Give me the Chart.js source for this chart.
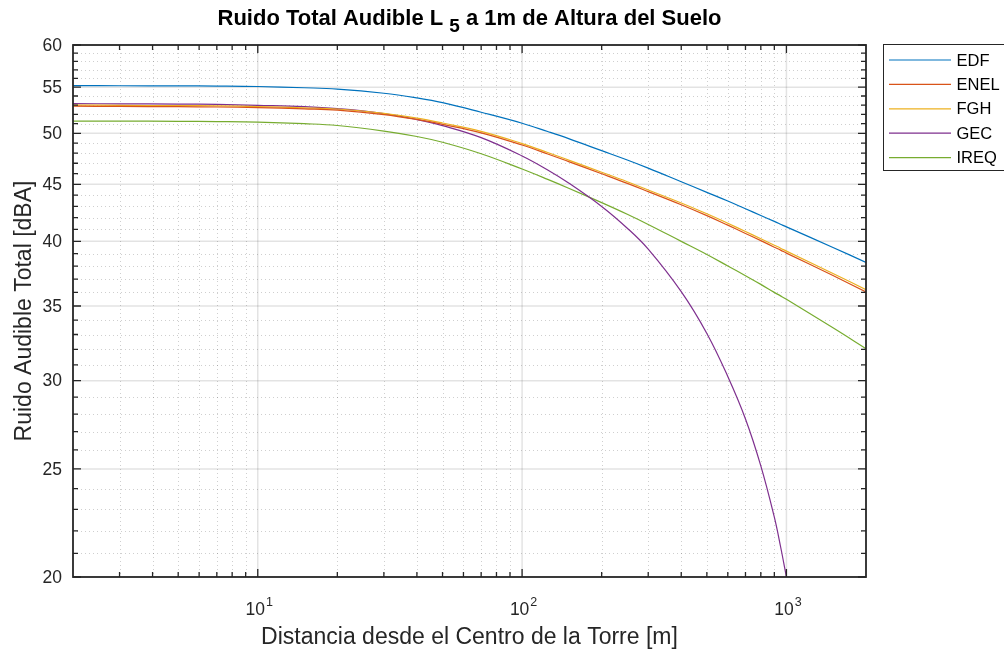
<!DOCTYPE html>
<html>
<head>
<meta charset="utf-8">
<script src="https://cdn.jsdelivr.net/npm/chart.js@4.4.1/dist/chart.umd.min.js"></script>
<style>
  html, body { margin: 0; padding: 0; background: #fff; }
  #wrap { width: 1004px; height: 649px; position: relative; }
</style>
</head>
<body>
<div id="wrap"><canvas id="c" width="1004" height="649"></canvas></div>
<script>
// Distance from tower centre [m]
const distance = [2, 3, 5, 7, 10, 15, 20, 30, 40, 50, 70, 100, 125, 150, 200, 250, 300, 400, 500, 600, 700, 800, 900, 950, 1000, 1500, 2000];

// Total audible noise L5 at 1 m above ground [dBA], one array per method
const edf  = [55.17, 55.16, 55.14, 55.12, 55.07, 54.93, 54.78, 54.31, 53.79, 53.27, 52.22, 51.05, 50.18, 49.45, 48.24, 47.32, 46.53, 45.24, 44.26, 43.47, 42.78, 42.19, 41.68, 41.44, 41.21, 39.5, 38.3];
const enel = [52.88, 52.85, 52.82, 52.79, 52.72, 52.58, 52.44, 51.97, 51.45, 50.93, 50.05, 48.8, 47.91, 47.16, 45.99, 45.09, 44.33, 43.14, 42.18, 41.36, 40.66, 40.06, 39.52, 39.28, 39.04, 37.27, 36.03];
const fgh  = [53.0, 52.97, 52.94, 52.91, 52.84, 52.7, 52.57, 52.1, 51.59, 51.07, 50.2, 48.95, 48.06, 47.31, 46.14, 45.24, 44.48, 43.3, 42.34, 41.52, 40.82, 40.22, 39.68, 39.44, 39.2, 37.43, 36.2];
const gec  = [53.15, 53.14, 53.11, 53.07, 52.97, 52.83, 52.61, 52.08, 51.44, 50.8, 49.55, 47.71, 46.35, 45.12, 42.99, 41.1, 39.36, 36.05, 33.07, 30.26, 27.72, 25.16, 22.63, 21.3, 20.0, null, null];
const ireq = [51.28, 51.27, 51.25, 51.22, 51.16, 51.0, 50.81, 50.23, 49.67, 49.08, 47.93, 46.44, 45.46, 44.64, 43.33, 42.3, 41.42, 40.0, 38.93, 38.02, 37.26, 36.6, 36.0, 35.74, 35.49, 33.46, 32.05];

const seriesNames = ['EDF', 'ENEL', 'FGH', 'GEC', 'IREQ'];
const seriesValues = [edf, enel, fgh, gec, ireq];
const seriesColors = ['#0072BD', '#D95319', '#EDB120', '#7E2F8E', '#77AC30'];

// Tick positions
const yMajorTicks = [20, 25, 30, 35, 40, 45, 50, 55, 60];
const xMajorTicks = [10, 100, 1000];
const xTickExponents = ['1', '2', '3'];

const titleMain = 'Ruido Total Audible L';
const titleSub = '5';
const titleRest = ' a 1m de Altura del Suelo';
const xTitle = 'Distancia desde el Centro de la Torre [m]';
const yTitle = 'Ruido Audible Total [dBA]';

const FONT = '"Liberation Sans", Arial, Helvetica, sans-serif';
const AXIS_COLOR = '#262626';

function yMinorValues() {
  const v = [];
  for (let i = 21; i < 60; i++) if (i % 5 !== 0) v.push(i);
  return v;
}
function xMinorValues() {
  const v = [];
  [1, 10, 100, 1000].forEach(d => {
    for (let m = 2; m <= 9; m++) {
      const val = m * d;
      if (val > 2 && val < 2000) v.push(val);
    }
  });
  return v;
}

const matlabAxes = {
  id: 'matlabAxes',
  beforeDatasetsDraw(chart) {
    const { ctx, chartArea: a, scales: { x, y } } = chart;
    ctx.save();
    ctx.beginPath();
    ctx.rect(a.left, a.top, a.right - a.left, a.bottom - a.top);
    ctx.clip();
    // minor grid (dotted)
    ctx.strokeStyle = 'rgba(38,38,38,0.22)';
    ctx.lineWidth = 1;
    ctx.setLineDash([1, 3]);
    xMinorValues().forEach(v => {
      const px = Math.round(x.getPixelForValue(v)) + 0.5;
      ctx.beginPath(); ctx.moveTo(px, a.top); ctx.lineTo(px, a.bottom); ctx.stroke();
    });
    yMinorValues().forEach(v => {
      const py = Math.round(y.getPixelForValue(v)) + 0.5;
      ctx.beginPath(); ctx.moveTo(a.left, py); ctx.lineTo(a.right, py); ctx.stroke();
    });
    // major grid (solid)
    ctx.setLineDash([]);
    ctx.strokeStyle = 'rgba(38,38,38,0.13)';
    ctx.lineWidth = 1.5;
    xMajorTicks.forEach(v => {
      const px = x.getPixelForValue(v);
      ctx.beginPath(); ctx.moveTo(px, a.top); ctx.lineTo(px, a.bottom); ctx.stroke();
    });
    yMajorTicks.forEach(v => {
      const py = y.getPixelForValue(v);
      ctx.beginPath(); ctx.moveTo(a.left, py); ctx.lineTo(a.right, py); ctx.stroke();
    });
    ctx.restore();
  },
  afterDatasetsDraw(chart) {
    const { ctx, chartArea: a, scales: { x, y } } = chart;
    ctx.save();
    ctx.strokeStyle = AXIS_COLOR;
    ctx.lineWidth = 1.3;
    const majorLen = 8, minorLen = 5;
    // ticks on all four sides, pointing inward
    ctx.beginPath();
    yMajorTicks.forEach(v => {
      const py = y.getPixelForValue(v);
      ctx.moveTo(a.left, py); ctx.lineTo(a.left + majorLen, py);
      ctx.moveTo(a.right, py); ctx.lineTo(a.right - majorLen, py);
    });
    yMinorValues().forEach(v => {
      const py = y.getPixelForValue(v);
      ctx.moveTo(a.left, py); ctx.lineTo(a.left + minorLen, py);
      ctx.moveTo(a.right, py); ctx.lineTo(a.right - minorLen, py);
    });
    xMajorTicks.forEach(v => {
      const px = x.getPixelForValue(v);
      ctx.moveTo(px, a.bottom); ctx.lineTo(px, a.bottom - majorLen);
      ctx.moveTo(px, a.top); ctx.lineTo(px, a.top + majorLen);
    });
    xMinorValues().forEach(v => {
      const px = x.getPixelForValue(v);
      ctx.moveTo(px, a.bottom); ctx.lineTo(px, a.bottom - minorLen);
      ctx.moveTo(px, a.top); ctx.lineTo(px, a.top + minorLen);
    });
    ctx.stroke();
    // axes box
    ctx.lineWidth = 1.8;
    ctx.strokeRect(a.left, a.top, a.right - a.left, a.bottom - a.top);

    // y tick labels
    ctx.fillStyle = AXIS_COLOR;
    ctx.font = '17.5px ' + FONT;
    ctx.textAlign = 'right';
    ctx.textBaseline = 'middle';
    yMajorTicks.forEach(v => {
      ctx.fillText(String(v), a.left - 11, y.getPixelForValue(v) + 1);
    });

    // x tick labels: 10 with superscript exponent
    xMajorTicks.forEach((v, i) => {
      const px = x.getPixelForValue(v);
      ctx.font = '17.5px ' + FONT;
      const wBase = ctx.measureText('10').width;
      ctx.font = '12.5px ' + FONT;
      const wExp = ctx.measureText(xTickExponents[i]).width;
      const start = px - (wBase + wExp) / 2 + 1;
      ctx.textAlign = 'left';
      ctx.textBaseline = 'alphabetic';
      ctx.font = '17.5px ' + FONT;
      ctx.fillText('10', start, a.bottom + 38);
      ctx.font = '12.5px ' + FONT;
      ctx.fillText(xTickExponents[i], start + wBase + 1, a.bottom + 29);
    });

    // axis titles
    ctx.font = '23px ' + FONT;
    ctx.textAlign = 'center';
    ctx.textBaseline = 'alphabetic';
    ctx.fillText(xTitle, (a.left + a.right) / 2, 644);
    ctx.save();
    ctx.translate(31, (a.top + a.bottom) / 2);
    ctx.rotate(-Math.PI / 2);
    ctx.fillText(yTitle, 0, 0);
    ctx.restore();

    // title with subscript
    ctx.fillStyle = '#000';
    const tFont = 'bold 22px ' + FONT;
    const sFont = 'bold 19px ' + FONT;
    ctx.font = tFont;
    const w1 = ctx.measureText(titleMain + ' ').width;
    const w3 = ctx.measureText(titleRest).width;
    ctx.font = sFont;
    const w2 = ctx.measureText(titleSub).width;
    const tx = (a.left + a.right) / 2 - (w1 + w2 + w3) / 2;
    ctx.textAlign = 'left';
    ctx.font = tFont;
    ctx.fillText(titleMain + ' ', tx, 25);
    ctx.font = sFont;
    ctx.fillText(titleSub, tx + w1, 32);
    ctx.font = tFont;
    ctx.fillText(titleRest, tx + w1 + w2, 25);

    // legend box
    const lx = 883.5, ly = 44.5, lw = 140, lh = 126;
    ctx.fillStyle = '#fff';
    ctx.fillRect(lx, ly, lw, lh);
    ctx.strokeStyle = AXIS_COLOR;
    ctx.lineWidth = 1;
    ctx.strokeRect(lx, ly, lw, lh);
    ctx.font = '16.5px ' + FONT;
    ctx.textBaseline = 'middle';
    chart.data.datasets.forEach((ds, i) => {
      const rowY = 60 + i * 24.4;
      ctx.strokeStyle = ds.borderColor;
      ctx.lineWidth = 1.2;
      ctx.beginPath(); ctx.moveTo(889, rowY); ctx.lineTo(951, rowY); ctx.stroke();
      ctx.fillStyle = '#000';
      ctx.fillText(ds.label, 956.5, rowY + 1);
    });
    ctx.restore();
  }
};

const datasets = seriesNames.map((name, i) => ({
  label: name,
  data: distance.map((d, k) => ({ x: d, y: seriesValues[i][k] })),
  borderColor: seriesColors[i],
  backgroundColor: seriesColors[i],
  borderWidth: 1.2,
  pointRadius: 0,
  fill: false,
  tension: 0.4,
  spanGaps: false
}));

new Chart(document.getElementById('c'), {
  type: 'line',
  data: { datasets },
  options: {
    responsive: false,
    animation: false,
    devicePixelRatio: 1,
    layout: { padding: { left: 73, right: 138, top: 45, bottom: 72 } },
    plugins: { legend: { display: false }, tooltip: { enabled: false }, title: { display: false } },
    scales: {
      x: { type: 'logarithmic', min: 2, max: 2000, display: false },
      y: { type: 'logarithmic', min: 20, max: 60, display: false }
    }
  },
  plugins: [matlabAxes]
});
</script>
</body>
</html>
